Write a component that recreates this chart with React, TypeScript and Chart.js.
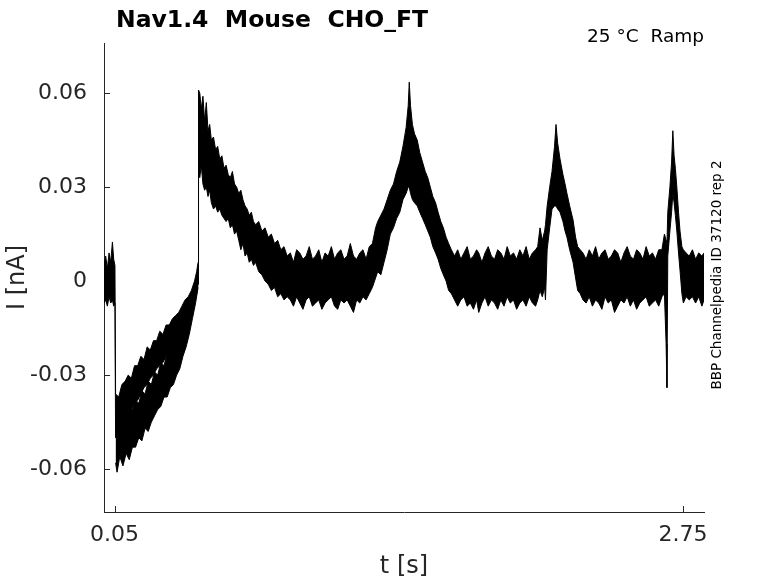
import { useEffect, useRef } from "react";
import { Chart, registerables } from "chart.js";

Chart.register(...registerables);

// sweep 1: time (s) and the upper / lower edge of the noisy current band (nA)
const sweepTime = [
  0.0, 0.008, 0.016, 0.024, 0.032, 0.04, 0.046, 0.052,
  0.055, 0.07, 0.085, 0.1, 0.115, 0.13, 0.145, 0.16, 0.175, 0.19, 0.205, 0.22, 0.235, 0.25, 0.265, 0.28, 0.295, 0.31, 0.325, 0.34, 0.355, 0.37, 0.385, 0.4, 0.415, 0.43, 0.44, 0.447,
  0.449, 0.455, 0.462, 0.47, 0.478, 0.486, 0.494, 0.502, 0.51,
  0.52, 0.53, 0.54, 0.55, 0.56, 0.57, 0.58, 0.59, 0.6, 0.61, 0.62, 0.63, 0.64, 0.65, 0.66, 0.67, 0.68, 0.69, 0.7, 0.71, 0.72,
  0.735, 0.75, 0.765, 0.78, 0.795, 0.81, 0.825, 0.84, 0.855, 0.87,
  0.885, 0.9, 0.915, 0.93, 0.945, 0.96, 0.975, 0.99, 1.005, 1.02, 1.035, 1.05, 1.065, 1.08, 1.095, 1.11, 1.125, 1.14, 1.155, 1.17, 1.185, 1.2, 1.215, 1.23, 1.245, 1.26,
  1.275, 1.29, 1.3, 1.315, 1.33, 1.345, 1.36, 1.375, 1.39, 1.405, 1.42, 1.435, 1.445, 1.45, 1.456, 1.465, 1.475, 1.488, 1.5, 1.513, 1.526, 1.538, 1.55, 1.562, 1.575, 1.587, 1.6, 1.612, 1.625, 1.637, 1.65,
  1.665, 1.68, 1.695, 1.71, 1.725, 1.74, 1.755, 1.77, 1.78, 1.795, 1.81, 1.825, 1.84, 1.855, 1.87, 1.885, 1.9, 1.915, 1.93, 1.945, 1.96, 1.975, 1.99, 2.005, 2.02, 2.035, 2.05, 2.06,
  2.071, 2.082, 2.093, 2.097, 2.105, 2.117, 2.128, 2.14, 2.147, 2.155, 2.166, 2.18, 2.19, 2.199, 2.212, 2.228, 2.24, 2.25, 2.262,
  2.275, 2.29, 2.305, 2.32, 2.335, 2.35, 2.365, 2.38, 2.395, 2.41, 2.425, 2.44, 2.455, 2.47, 2.485, 2.5, 2.515, 2.53, 2.545, 2.56, 2.575, 2.59, 2.605, 2.62, 2.635, 2.65,
  2.662, 2.67, 2.674, 2.678, 2.688, 2.696, 2.702, 2.708, 2.714, 2.721, 2.729, 2.736, 2.745, 2.752, 2.765, 2.78, 2.795, 2.81, 2.825, 2.84, 2.85,
];
const sweepUpper = [
  0.005, 0.008, 0.004, 0.009, 0.006, 0.0125, 0.007, 0.005,
  -0.036, -0.037, -0.033, -0.032, -0.03, -0.031, -0.027, -0.027, -0.024, -0.025, -0.021, -0.022, -0.019, -0.019, -0.016, -0.017, -0.014, -0.014, -0.012, -0.011, -0.01, -0.008, -0.006, -0.005, -0.003, 0.0, 0.003, 0.006,
  0.061, 0.06, 0.055, 0.059, 0.051, 0.057, 0.048, 0.05, 0.045,
  0.046, 0.042, 0.043, 0.039, 0.04, 0.036, 0.037, 0.034, 0.033, 0.035, 0.031, 0.03, 0.028, 0.029, 0.026, 0.024, 0.023, 0.021, 0.022, 0.019, 0.018,
  0.019, 0.016, 0.017, 0.014, 0.015, 0.012, 0.013, 0.01, 0.011, 0.008,
  0.009, 0.006, 0.01, 0.009, 0.007, 0.008, 0.011, 0.007, 0.008, 0.01, 0.006, 0.009, 0.008, 0.011, 0.007, 0.009, 0.01, 0.007, 0.008, 0.012, 0.008, 0.007, 0.009, 0.01, 0.007, 0.011,
  0.012, 0.017, 0.019, 0.021, 0.023, 0.026, 0.029, 0.031, 0.035, 0.038, 0.043, 0.049, 0.056, 0.0635, 0.056, 0.05, 0.047, 0.045, 0.041, 0.038, 0.035, 0.033, 0.03, 0.027, 0.025, 0.022, 0.019, 0.017, 0.014, 0.012, 0.01,
  0.008, 0.01, 0.007, 0.009, 0.011, 0.007, 0.008, 0.01, 0.009, 0.006, 0.009, 0.011, 0.008, 0.007, 0.01, 0.009, 0.007, 0.011, 0.008, 0.009, 0.007, 0.01, 0.008, 0.011, 0.007, 0.009, 0.01, 0.011,
  0.017, 0.013, 0.016, 0.018, 0.024, 0.03, 0.035, 0.043, 0.05, 0.044, 0.039, 0.034, 0.031, 0.028, 0.024, 0.0195, 0.014, 0.011, 0.01,
  0.009, 0.007, 0.01, 0.008, 0.011, 0.007, 0.009, 0.01, 0.007, 0.008, 0.01, 0.009, 0.006, 0.009, 0.011, 0.008, 0.007, 0.01, 0.009, 0.007, 0.011, 0.008, 0.009, 0.007, 0.01, 0.01,
  0.015, 0.013, 0.012, 0.022, 0.03, 0.038, 0.048, 0.04, 0.036, 0.03, 0.022, 0.016, 0.011, 0.01, 0.009, 0.008, 0.01, 0.007, 0.009, 0.008, 0.009,
];
const sweepLower = [
  -0.007, -0.006, -0.008, -0.005, -0.007, -0.006, -0.008, -0.007,
  -0.05, -0.048, -0.046, -0.044, -0.043, -0.041, -0.039, -0.038, -0.036, -0.034, -0.033, -0.031, -0.03, -0.028, -0.027, -0.026, -0.024, -0.023, -0.022, -0.02, -0.018, -0.016, -0.014, -0.011, -0.009, -0.006, -0.004, -0.001,
  0.034, 0.033, 0.037, 0.031, 0.029, 0.03, 0.027, 0.029, 0.025,
  0.023, 0.024, 0.022, 0.023, 0.021, 0.02, 0.019, 0.02, 0.017, 0.018, 0.015, 0.016, 0.013, 0.01, 0.012, 0.008, 0.009, 0.006, 0.007, 0.005, 0.006,
  0.003, 0.002, 0.0, -0.001, -0.003, -0.002, -0.005, -0.004, -0.006, -0.005,
  -0.006, -0.008, -0.005, -0.007, -0.009, -0.006, -0.005, -0.008, -0.007, -0.006, -0.009, -0.007, -0.006, -0.005, -0.008, -0.009, -0.006, -0.007, -0.006, -0.008, -0.01, -0.006, -0.007, -0.005, -0.006, -0.004,
  -0.002, 0.001, 0.003, 0.002, 0.006, 0.01, 0.015, 0.017, 0.02, 0.022, 0.026, 0.028, 0.03, 0.03, 0.028, 0.026, 0.025, 0.024, 0.022, 0.02, 0.018, 0.016, 0.014, 0.011, 0.009, 0.007, 0.004, 0.002, 0.0, -0.003, -0.004,
  -0.006, -0.008, -0.006, -0.005, -0.008, -0.007, -0.009, -0.006, -0.01, -0.007, -0.005, -0.008, -0.006, -0.007, -0.009, -0.006, -0.008, -0.005, -0.007, -0.006, -0.009, -0.007, -0.006, -0.008, -0.005, -0.007, -0.008, -0.006,
  -0.003, -0.005, -0.002, -0.006, 0.01, 0.017, 0.023, 0.024, 0.024, 0.023, 0.022, 0.019, 0.016, 0.014, 0.01, 0.006, 0.001, -0.003, -0.004,
  -0.006, -0.007, -0.005, -0.008, -0.006, -0.007, -0.009, -0.005, -0.007, -0.006, -0.01, -0.008, -0.006, -0.007, -0.005, -0.008, -0.006, -0.009, -0.007, -0.006, -0.005, -0.008, -0.007, -0.006, -0.008, -0.005,
  -0.004, -0.02, -0.034, 0.008, 0.016, 0.022, 0.028, 0.025, 0.021, 0.016, 0.009, 0.0035, -0.004, -0.007, -0.005, -0.006, -0.005, -0.007, -0.005, -0.008, -0.006,
];

// sweep 2 only separates from sweep 1 during the slow ramp
const rampTime = [
  0.055, 0.062, 0.075, 0.09, 0.105, 0.12, 0.135, 0.15, 0.165, 0.18, 0.195, 0.21, 0.225, 0.24,
  0.255, 0.27, 0.285, 0.3, 0.315, 0.33, 0.345, 0.36, 0.375, 0.39, 0.405, 0.42, 0.435, 0.447,
];
const rampUpper = [
  -0.043, -0.044, -0.045, -0.042, -0.044, -0.04, -0.041, -0.038, -0.039, -0.035, -0.036, -0.032, -0.033, -0.029,
  -0.03, -0.026, -0.027, -0.023, -0.022, -0.019, -0.018, -0.015, -0.013, -0.01, -0.007, -0.005, -0.001, 0.003,
];
const rampLower = [
  -0.058, -0.061, -0.056, -0.059, -0.055, -0.057, -0.053, -0.053, -0.05, -0.051, -0.047, -0.048, -0.045, -0.043,
  -0.041, -0.04, -0.037, -0.037, -0.034, -0.033, -0.03, -0.028, -0.024, -0.021, -0.017, -0.012, -0.007, -0.002,
];

const xTicks = [0.05, 2.75];
const yTicks = [-0.06, -0.03, 0, 0.03, 0.06];

const FONT = "'DejaVu Sans', 'Liberation Sans', sans-serif";
const INK = "#262626";

const toPoints = (t: number[], v: number[]) => t.map((x, i) => ({ x, y: v[i] }));

const decorations = {
  id: "decorations",
  beforeDatasetsDraw(chart: any) {
    const { ctx, chartArea, scales } = chart;
    ctx.save();
    ctx.strokeStyle = INK;
    ctx.lineWidth = 1;
    ctx.beginPath();
    xTicks.forEach((v) => {
      const px = Math.round(scales.x.getPixelForValue(v)) + 0.5;
      ctx.moveTo(px, chartArea.bottom);
      ctx.lineTo(px, chartArea.bottom - 6);
    });
    yTicks.forEach((v) => {
      const py = Math.round(scales.y.getPixelForValue(v)) + 0.5;
      ctx.moveTo(chartArea.left, py);
      ctx.lineTo(chartArea.left + 6, py);
    });
    ctx.stroke();
    ctx.restore();
  },
  afterDraw(chart: any) {
    const { ctx } = chart;
    ctx.save();
    ctx.fillStyle = "#000";
    ctx.textBaseline = "alphabetic";
    ctx.font = `bold 23.5px ${FONT}`;
    ctx.textAlign = "left";
    ctx.fillText("Nav1.4  Mouse  CHO_FT", 116, 27);
    ctx.font = `18.5px ${FONT}`;
    ctx.textAlign = "right";
    ctx.fillText("25 °C  Ramp", 704, 42);
    ctx.font = `13.5px ${FONT}`;
    ctx.textAlign = "center";
    ctx.translate(721, 275);
    ctx.rotate(-Math.PI / 2);
    ctx.fillText("BBP Channelpedia ID 37120 rep 2", 0, 0);
    ctx.restore();
  },
};

const App = () => {
  const canvasRef = useRef<HTMLCanvasElement | null>(null);

  useEffect(() => {
    const band = (t: number[], v: number[], fill: any) => ({
      data: toPoints(t, v),
      borderColor: "#000",
      backgroundColor: "#000",
      borderWidth: 1,
      pointRadius: 0,
      tension: 0,
      fill,
    });

    const chart = new Chart(canvasRef.current!, {
      type: "line",
      data: {
        datasets: [
          band(sweepTime, sweepUpper, false),
          band(sweepTime, sweepLower, "-1"),
          band(rampTime, rampUpper, false),
          band(rampTime, rampLower, "-1"),
        ],
      },
      options: {
        responsive: false,
        animation: false,
        layout: { padding: { top: 43, right: 74, bottom: 0, left: 0 } },
        plugins: { legend: { display: false }, tooltip: { enabled: false } },
        scales: {
          x: {
            type: "linear",
            min: 0,
            max: 2.85,
            afterBuildTicks: (s: any) => {
              s.ticks = xTicks.map((value) => ({ value }));
            },
            afterFit: (s: any) => {
              s.height = 71;
            },
            grid: { display: false, drawTicks: false, tickLength: 0 },
            border: { display: true, color: INK, width: 1 },
            ticks: {
              color: INK,
              font: { family: FONT, size: 22 },
              padding: 10,
              maxRotation: 0,
              autoSkip: false,
              callback: (v: any) => Number(v).toFixed(2),
            },
            title: {
              display: true,
              text: "t [s]",
              color: INK,
              font: { family: FONT, size: 24 },
              padding: { top: 0, bottom: 2 },
            },
          },
          y: {
            min: -0.0737,
            max: 0.076,
            afterBuildTicks: (s: any) => {
              s.ticks = yTicks.map((value) => ({ value }));
            },
            afterFit: (s: any) => {
              s.width = 104;
            },
            grid: { display: false, drawTicks: false, tickLength: 0 },
            border: { display: true, color: INK, width: 1 },
            ticks: {
              color: INK,
              font: { family: FONT, size: 22 },
              padding: 17,
              autoSkip: false,
              callback: (v: any) => (Number(v) === 0 ? "0" : Number(v).toFixed(2)),
            },
            title: {
              display: true,
              text: "I [nA]",
              color: INK,
              font: { family: FONT, size: 24 },
              padding: { top: 3, bottom: 0 },
            },
          },
        },
      },
      plugins: [decorations],
    });

    return () => {
      chart.destroy();
    };
  }, []);

  return (
    <div style={{ position: "absolute", left: 0, top: 0, width: 778, height: 583, background: "#fff" }}>
      <canvas ref={canvasRef} width={778} height={583} />
    </div>
  );
};

export default App;
